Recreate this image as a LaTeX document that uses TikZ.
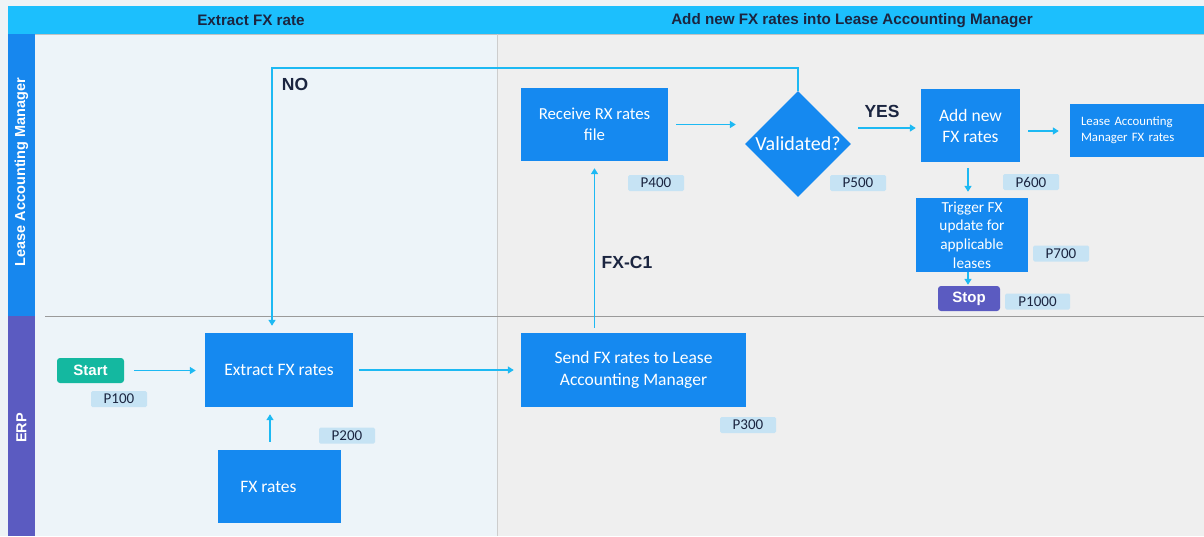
\documentclass[tikz,border=0pt]{standalone}
\usepackage{fontspec}
\setmainfont{Carlito}
\newfontfamily\hdfont{Liberation Sans}
\usetikzlibrary{arrows.meta,shapes.geometric,calc}
\definecolor{hdcyan}{HTML}{1CBFFD}
\definecolor{lanebl}{HTML}{1787EE}
\definecolor{lanepu}{HTML}{5B5BC1}
\definecolor{boxbl}{HTML}{1589F0}
\definecolor{conncol}{HTML}{1DB9F3}
\definecolor{tagbl}{HTML}{C6E3F4}
\definecolor{darktxt}{HTML}{1B2540}
\definecolor{colA}{HTML}{EDF4F9}
\definecolor{colB}{HTML}{EFEFEF}
\definecolor{topstrip}{HTML}{EEF3F6}
\definecolor{startgr}{HTML}{14B8A0}
\definecolor{sepline}{HTML}{9A9A9A}
\begin{document}
\begin{tikzpicture}[x=1pt,y=-1pt,
  box/.style={fill=boxbl,draw=none,text=white,align=center,inner sep=0pt,font=\fontsize{17.5}{21.5}\selectfont},
  tag/.style={fill=tagbl,draw=none,rounded corners=1.5pt,text=darktxt,minimum width=56pt,minimum height=16pt,inner sep=0pt,font=\fontsize{15}{16}\selectfont},
  conn/.style={draw=conncol,line width=1.6pt,-{Triangle[length=6pt,width=7pt]}},
  lbl/.style={text=darktxt,font=\hdfont\bfseries\fontsize{17.5}{20}\selectfont},
  hd/.style={text=darktxt,font=\hdfont\bfseries\fontsize{15.2}{17}\selectfont},
  lane/.style={text=white,font=\hdfont\bfseries\fontsize{14.5}{16}\selectfont},
  term/.style={draw=none,rounded corners=3pt,text=white,inner sep=0pt,font=\hdfont\bfseries\fontsize{15}{16}\selectfont}]
\useasboundingbox (0,0) rectangle (1204,536);
% backgrounds
\fill[topstrip] (0,0) rectangle (1204,536);
\fill[colA] (35,34) rectangle (497,536);
\fill[colB] (497,34) rectangle (1204,536);
\fill[hdcyan] (8,6) rectangle (1204,34);
\draw[sepline!60,line width=0.6pt] (8,34) -- (1204,34);
\fill[lanebl] (8,34) rectangle (35,316);
\fill[lanepu] (8,316) rectangle (35,536);
\draw[sepline!50,line width=0.6pt] (497,34) -- (497,536);
\draw[sepline,line width=0.8pt] (45,316) -- (1204,316);
% headers
\node[hd] (h1) at (251,20.5) {Extract FX rate};
\node[hd] (h2) at (852,20.5) {Add new FX rates into Lease Accounting Manager};
\node[lane,rotate=90] (l1) at (21.5,172) {Lease Accounting Manager};
\node[lane,rotate=90] (l2) at (21.5,428) {ERP};
% nodes
\node[box,minimum width=147pt,minimum height=73pt,font=\fontsize{16.8}{21.5}\selectfont] (recv) at (594.5,124.5) {Receive RX rates\\file};
\node[box,diamond,aspect=1,minimum width=106pt,minimum height=106pt,font=\fontsize{20}{22}\selectfont] (val) at (798,144) {Validated?};
\node[box,minimum width=99pt,minimum height=73pt,font=\fontsize{17.5}{21}\selectfont] (add) at (970.5,125.5) {Add new\\FX rates};
\node[box,minimum width=134pt,minimum height=53pt,align=left,text width=112pt,font=\fontsize{12.8}{15.7}\selectfont] (lamfx) at (1137,130.5) {Lease Accounting\\Manager FX rates};
\node[box,minimum width=112pt,minimum height=74pt,font=\fontsize{15.3}{18.6}\selectfont] (trig) at (972,235) {Trigger FX\\update for\\applicable\\leases};
\node[term,fill=lanepu,minimum width=62pt,minimum height=25pt] (stop) at (969,298.5) {Stop};
\node[term,fill=startgr,minimum width=67pt,minimum height=25pt] (start) at (90.5,370.5) {Start};
\node[box,minimum width=148pt,minimum height=74pt] (extract) at (279,370) {Extract FX rates};
\node[box,minimum width=123pt,minimum height=73pt] (fxr) at (279.5,486.5) {FX rates\hspace{22pt}};
\node[box,minimum width=225pt,minimum height=74pt] (send) at (633.5,370) {Send FX rates to Lease\\Accounting Manager};
% tags
\node[tag] (p100) at (119,399) {P100};
\node[tag] (p200) at (347,435.5) {P200};
\node[tag] (p300) at (748,425) {P300};
\node[tag] (p400) at (656,183) {P400};
\node[tag] (p500) at (858,183) {P500};
\node[tag] (p600) at (1031,182) {P600};
\node[tag] (p700) at (1061,253.5) {P700};
\node[tag,minimum width=65pt] (p1000) at (1037.5,301.5) {P1000};
% connectors
\draw[conn,shorten <=10pt,shorten >=9pt] (start.east) -- (start.east -| extract.west);
\draw[conn,shorten <=6pt,shorten >=7pt] (extract.east) -- (extract.east -| send.west);
\draw[conn,shorten <=8pt,shorten >=7pt] ([xshift=-9.5pt]fxr.north) -- ([xshift=-9.5pt]fxr.north |- extract.south);
\draw[conn,shorten <=5pt,shorten >=7pt] (send.north -| recv.south) -- (recv.south);
\draw[conn,shorten <=8pt,shorten >=9pt] (recv.east) -- (recv.east -| val.west);
\draw[conn,shorten <=7pt,shorten >=5pt] ([yshift=-2.5pt]add.west -| val.east) -- ([yshift=-2.5pt]add.west);
\draw[conn,shorten <=8pt,shorten >=11pt] ([yshift=-5.5pt]add.east) -- ([yshift=-5.5pt]add.east -| lamfx.west);
\draw[conn,shorten <=6pt,shorten >=6pt] ([xshift=-2.5pt]add.south) -- ([xshift=-2.5pt]add.south |- trig.north);
\draw[conn,shorten >=1pt] ([xshift=-1pt]stop.north |- trig.south) -- ([xshift=-1pt]stop.north);
\draw[conn,shorten >=7pt] (val.north) -- ++(0,-23) -| ([xshift=-7pt]extract.north);
% labels
\node[lbl] (no) at (295,84) {NO};
\node[lbl] (yes) at (882,111) {YES};
\node[lbl] (fxc1) at (627,262) {FX-C1};
\end{tikzpicture}
\end{document}
